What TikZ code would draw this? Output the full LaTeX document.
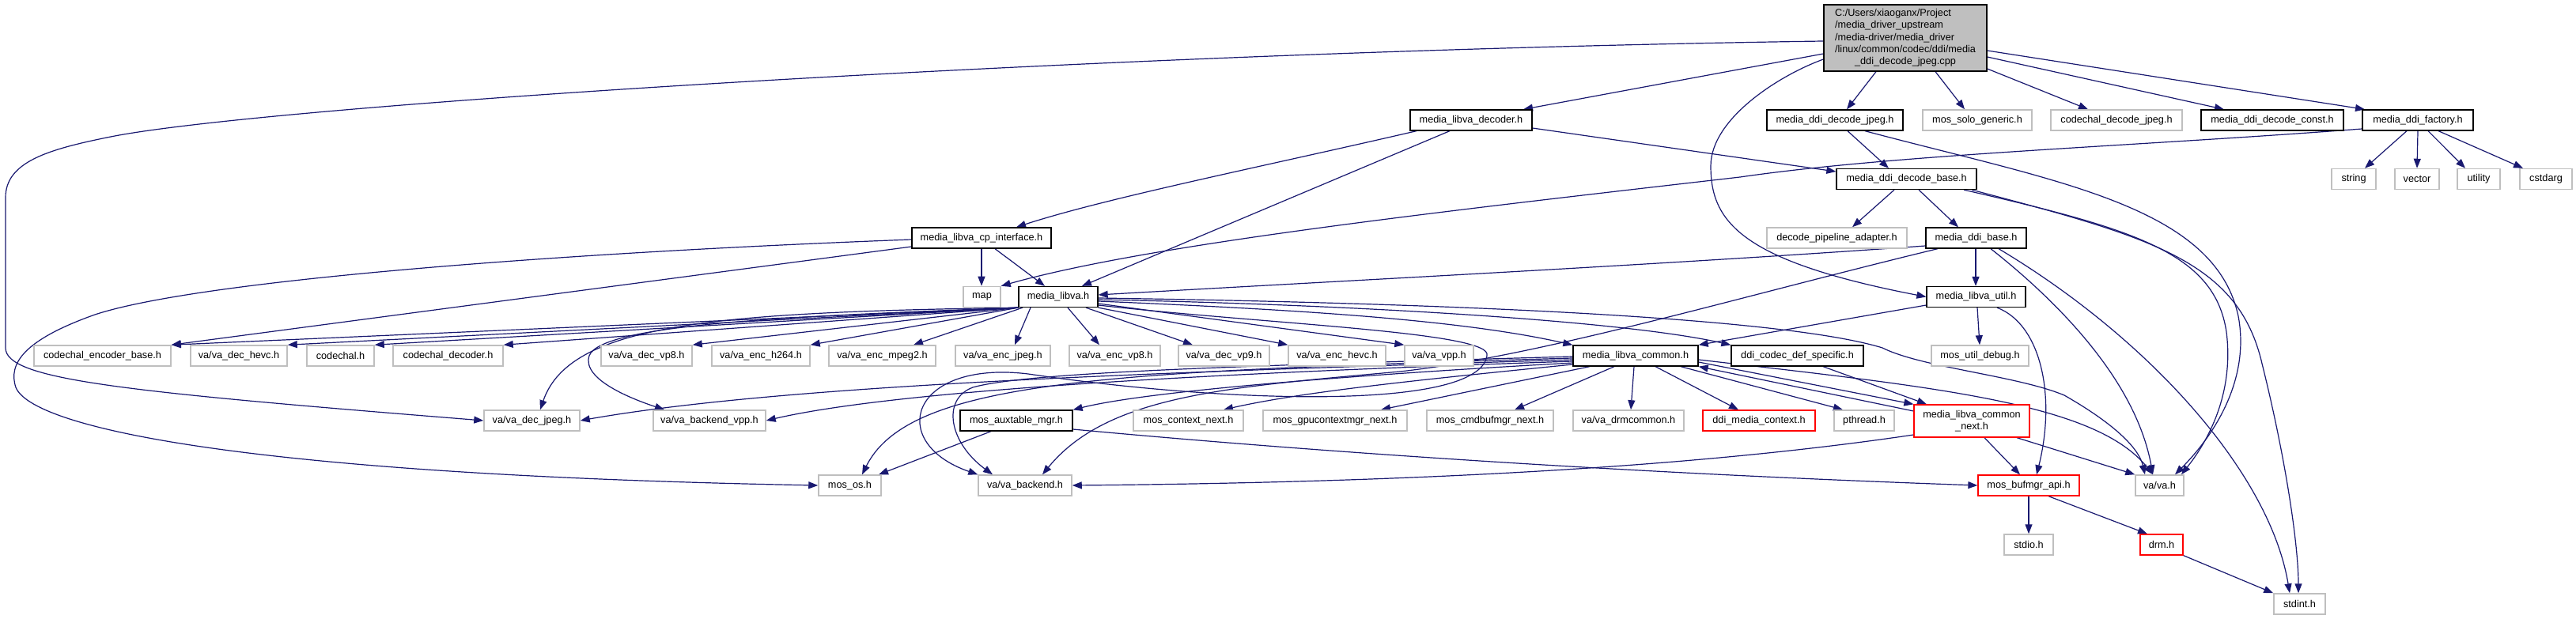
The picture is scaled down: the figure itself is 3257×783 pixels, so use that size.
\documentclass[tikz,border=0pt]{standalone}
\usepackage{fontspec}
\setmainfont{Liberation Sans}
\usetikzlibrary{arrows.meta,calc}
\definecolor{edgec}{HTML}{191970}
\definecolor{gr}{HTML}{BFBFBF}
\pgfdeclarelayer{bgl}
\pgfdeclarelayer{edl}
\pgfsetlayers{bgl,edl,main}
\tikzset{
 nd/.style={draw, fill=white, line width=1.5pt, minimum height=26pt, inner sep=0pt, font=\fontsize{12.7}{15.2}\selectfont},
 bk/.style={nd, draw=black, line width=1.3pt},
 gy/.style={nd, draw=gr},
 rd/.style={nd, draw=red, line width=1.3pt},
 e/.style={draw=edgec, line width=1.2pt, -{Triangle[length=12pt,width=9pt]}},
}
\newcommand\mynode[6]{\node[#1,minimum width=#5pt] (#2) at (#3,#4) {#6};}
\begin{document}
\begin{tikzpicture}[x=1pt,y=-1pt]
\begin{pgfonlayer}{bgl}
\fill[white] (0,0) rectangle (3257,783);
\end{pgfonlayer}
\useasboundingbox (0,0) rectangle (3257,783);
% main
\node[nd, draw=black, line width=1.3pt, fill=gr, minimum width=206pt, minimum height=84pt] (m) at (2409,48)
 {\begin{tabular}{@{}l@{}}C:/Users/xiaoganx/Project\\/media\_driver\_upstream\\/media-driver/media\_driver\\/linux/common/codec/ddi/media\\\multicolumn{1}{@{}c@{}}{\_ddi\_decode\_jpeg.cpp}\end{tabular}};
% row 1
\mynode{bk}{decoder}{1860}{152}{154}{media\_libva\_decoder.h}
\mynode{bk}{djpegh}{2320}{152}{172}{media\_ddi\_decode\_jpeg.h}
\mynode{gy}{solo}{2500}{152}{138}{mos\_solo\_generic.h}
\mynode{gy}{cdjpeg}{2676}{152}{166}{codechal\_decode\_jpeg.h}
\mynode{bk}{dconst}{2873}{152}{180}{media\_ddi\_decode\_const.h}
\mynode{bk}{factory}{3057}{152}{140}{media\_ddi\_factory.h}
% row 2
\mynode{bk}{dbase}{2410.5}{226.5}{177}{media\_ddi\_decode\_base.h}
\mynode{gy}{string}{2976}{226.5}{56}{string}
\mynode{gy}{vector}{3056}{226.5}{56}{vector}
\mynode{gy}{utility}{3134}{226.5}{54}{utility}
\mynode{gy}{cstdarg}{3219}{226.5}{66}{cstdarg}
% row 3
\mynode{bk}{cpif}{1241}{301}{176}{media\_libva\_cp\_interface.h}
\mynode{gy}{dpa}{2322.5}{301}{177}{decode\_pipeline\_adapter.h}
\mynode{bk}{ddibase}{2498.5}{301}{127}{media\_ddi\_base.h}
% row 4
\mynode{gy}{map}{1241.5}{375.5}{47}{map}
\mynode{bk}{libva}{1338}{375.5}{100}{media\_libva.h}
\mynode{bk}{util}{2498.5}{375.5}{125}{media\_libva\_util.h}
% row 5
\mynode{gy}{ceb}{129.5}{450}{173}{codechal\_encoder\_base.h}
\mynode{gy}{hevcdec}{302}{450}{122}{va/va\_dec\_hevc.h}
\mynode{gy}{codechal}{430.5}{450}{85}{codechal.h}
\mynode{gy}{cdec}{566.5}{450}{139}{codechal\_decoder.h}
\mynode{gy}{vpdec}{817.5}{450}{115}{va/va\_dec\_vp8.h}
\mynode{gy}{h264}{962}{450}{124}{va/va\_enc\_h264.h}
\mynode{gy}{mpeg2}{1115.5}{450}{135}{va/va\_enc\_mpeg2.h}
\mynode{gy}{encjpeg}{1268}{450}{120}{va/va\_enc\_jpeg.h}
\mynode{gy}{encvp}{1409.5}{450}{115}{va/va\_enc\_vp8.h}
\mynode{gy}{vpnine}{1547.5}{450}{115}{va/va\_dec\_vp9.h}
\mynode{gy}{enchevc}{1690.5}{450}{123}{va/va\_enc\_hevc.h}
\mynode{gy}{vpp}{1819.5}{450}{87}{va/va\_vpp.h}
\mynode{bk}{common}{2068}{450}{158}{media\_libva\_common.h}
\mynode{bk}{defspec}{2272.5}{450}{167}{ddi\_codec\_def\_specific.h}
\mynode{gy}{debug}{2503.5}{450}{123}{mos\_util\_debug.h}
% row 6
\mynode{gy}{decjpeg}{672.5}{532}{121}{va/va\_dec\_jpeg.h}
\mynode{gy}{bvpp}{897}{532}{142}{va/va\_backend\_vpp.h}
\mynode{bk}{aux}{1285}{532}{142}{mos\_auxtable\_mgr.h}
\mynode{gy}{ctxnext}{1502.5}{532}{139}{mos\_context\_next.h}
\mynode{gy}{gpuctx}{1688}{532}{182}{mos\_gpucontextmgr\_next.h}
\mynode{gy}{cmdbuf}{1884}{532}{160}{mos\_cmdbufmgr\_next.h}
\mynode{gy}{drmcommon}{2059}{532}{140}{va/va\_drmcommon.h}
\mynode{rd}{ddictx}{2224}{532}{142}{ddi\_media\_context.h}
\mynode{gy}{pthread}{2357}{532}{76}{pthread.h}
\node[rd, minimum width=146pt, minimum height=41pt, align=center] (cnext) at (2493,532.5) {media\_libva\_common\\\_next.h};
% row 7
\mynode{gy}{mosos}{1074.5}{614}{79}{mos\_os.h}
\mynode{gy}{backend}{1296}{614}{118}{va/va\_backend.h}
\mynode{rd}{bufmgr}{2565}{614}{128}{mos\_bufmgr\_api.h}
\mynode{gy}{vah}{2730.5}{614}{61}{va/va.h}
% row 8, 9
\mynode{gy}{stdio}{2565}{689}{62}{stdio.h}
\mynode{rd}{drm}{2733}{689}{54}{drm.h}
\mynode{gy}{stdint}{2907.5}{764}{65}{stdint.h}

\begin{pgfonlayer}{edl}
% main
\draw[e] (m.west |- 0,68) -- (decoder.north -| 1926,0);
\draw[e] (m.south -| 2372,0) -- (djpegh.north -| 2335,0);
\draw[e] (m.south -| 2447,0) -- (solo.north -| 2484,0);
\draw[e] (m.east |- 0,87) -- (cdjpeg.north -| 2640,0);
\draw[e] (m.east |- 0,72) -- (dconst.north -| 2812,0);
\draw[e] (m.east |- 0,64) -- (factory.north -| 2990,0);
\draw[e] (m.west |- 0,52) .. controls (1400,65) and (340,133) .. (140,173) .. controls (60,189) and (7,205) .. (7,250) -- (7,440) .. controls (7,480) and (150,495) .. (decjpeg.west);
\draw[e] (m.west |- 0,75) .. controls (2250,95) and (2163,150) .. (2163,210) .. controls (2163,280) and (2200,330) .. (util.west);
% decoder
\draw[e] (decoder.south -| 1791,0) .. controls (1600,210) and (1400,250) .. (cpif.north -| 1285,0);
\draw[e] (decoder.south -| 1833,0) -- (libva.north -| 1368,0);
\draw[e] (decoder.east |- 0,162) -- (dbase.west |- 0,217);
% djpegh
\draw[e] (djpegh.south -| 2336,0) -- (dbase.north -| 2388,0);
\draw[e] (djpegh.south -| 2358,0) .. controls (2600,230) and (2800,260) .. (2830,400) .. controls (2845,480) and (2800,550) .. (vah.north -| 2750,0);
% factory
\draw[e] (factory.south -| 3043,0) -- (string.north -| 2990,0);
\draw[e] (factory.south -| 3057,0) -- (vector.north);
\draw[e] (factory.south -| 3070,0) -- (utility.north -| 3117,0);
\draw[e] (factory.south -| 3083,0) -- (cstdarg.north -| 3190,0);
\draw[e] (factory.west |- 0,163) .. controls (2700,185) and (2400,195) .. (2200,224) .. controls (1800,270) and (1450,310) .. (map.north east);
% dbase
\draw[e] (dbase.south -| 2395,0) -- (dpa.north -| 2342,0);
\draw[e] (dbase.south -| 2426,0) -- (ddibase.north -| 2476,0);
\draw[e] (dbase.south -| 2483,0) .. controls (2700,290) and (2800,320) .. (2815,420) .. controls (2825,500) and (2790,560) .. (vah.north -| 2758,0);
\draw[e] (dbase.south -| 2493,0) .. controls (2720,300) and (2830,330) .. (2860,460) .. controls (2890,580) and (2906,690) .. (stdint.north -| 2906,0);
% cpif
\draw[e] (cpif.south -| 1241,0) -- (map.north -| 1241,0);
\draw[e] (cpif.south -| 1258,0) -- (libva.north -| 1321,0);
\draw[e] (cpif.west |- 0,312) -- (ceb.north east);
\draw[e] (cpif.west |- 0,303) .. controls (700,320) and (250,355) .. (120,398) .. controls (30,430) and (10,460) .. (20,490) .. controls (40,540) and (300,600) .. (mosos.west);
% libva
\draw[e] (libva.south west) -- (ceb.north east);
\draw[e] (libva.south west) -- (hevcdec.north east);
\draw[e] (libva.south west) -- (codechal.north east);
\draw[e] (libva.south west) -- (cdec.north east);
\draw[e] (libva.south west) -- (vpdec.north east);
\draw[e] (libva.south west) -- (h264.north east);
\draw[e] (libva.south -| 1293,0) -- (mpeg2.north -| 1155,0);
\draw[e] (libva.south -| 1303,0) -- (encjpeg.north -| 1283,0);
\draw[e] (libva.south -| 1350,0) -- (encvp.north -| 1390,0);
\draw[e] (libva.south -| 1373,0) -- (vpnine.north -| 1508,0);
\draw[e] (libva.south east) -- (enchevc.north west);
\draw[e] (libva.east |- 0,384) -- (vpp.north west);
\draw[e] (libva.east |- 0,381) .. controls (1650,392) and (1850,405) .. (common.north west);
\draw[e] (libva.east |- 0,379) .. controls (1700,385) and (2050,405) .. (defspec.north west);
\draw[e] (libva.east |- 0,377) .. controls (1800,383) and (2250,400) .. (2380,440) .. controls (2430,465) and (2550,475) .. (2610,500) .. controls (2680,540) and (2705,570) .. (vah.north -| 2712,0);
\draw[e] (libva.south west) .. controls (900,395) and (720,410) .. (decjpeg.north -| 683,0);
\draw[e] (libva.south west) .. controls (1000,400) and (760,410) .. (745,450) .. controls (735,480) and (800,505) .. (bvpp.north -| 840,0);
\draw[e] (libva.east |- 0,386) .. controls (1600,410) and (1890,420) .. (1880,450) .. controls (1870,520) and (1550,510) .. (1300,473) .. controls (1150,455) and (1120,560) .. (backend.north west);
% ddibase
\draw[e] (ddibase.south -| 2498,0) -- (util.north -| 2498,0);
\draw[e] (ddibase.west |- 0,311) .. controls (2100,335) and (1700,355) .. (libva.east |- 0,373);
\draw[e] (ddibase.south -| 2450,0) .. controls (2200,375) and (1950,450) .. (1770,470) .. controls (1550,490) and (1400,500) .. (backend.north -| 1318,0);
\draw[e] (ddibase.south -| 2517,0) .. controls (2600,380) and (2700,480) .. (vah.north -| 2722,0);
\draw[e] (ddibase.south -| 2527,0) .. controls (2720,430) and (2870,600) .. (stdint.north -| 2895,0);
% util
\draw[e] (util.west |- 0,386) -- (common.north east);
\draw[e] (util.south -| 2500,0) -- (debug.north -| 2503,0);
\draw[e] (util.south -| 2525,0) .. controls (2580,410) and (2600,500) .. (bufmgr.north -| 2575,0);
% common
\draw[e] (common.south -| 2010,0) -- (gpuctx.north -| 1746,0);
\draw[e] (common.south -| 2041,0) -- (cmdbuf.north -| 1915,0);
\draw[e] (common.south -| 2066,0) -- (drmcommon.north -| 2062,0);
\draw[e] (common.south -| 2093,0) -- (ddictx.north -| 2198,0);
\draw[e] (common.south -| 2125,0) -- (pthread.north -| 2330,0);
\draw[e] (common.east |- 0,458) -- (cnext.north west);
\draw[e] (cnext.west |- 0,520) -- (common.south east);
\draw[e] (common.east |- 0,455) .. controls (2450,490) and (2650,510) .. (vah.north -| 2722,0);
\draw[e] (common.west |- 0,455) .. controls (1500,470) and (1000,485) .. (decjpeg.east);
\draw[e] (common.west |- 0,457) .. controls (1600,470) and (1150,490) .. (bvpp.east);
\draw[e] (common.west |- 0,459) .. controls (1700,475) and (1450,495) .. (aux.north east);
\draw[e] (common.west |- 0,461) .. controls (1800,480) and (1650,495) .. (ctxnext.north -| 1547,0);
\draw[e] (common.west |- 0,453) .. controls (1400,470) and (1150,480) .. (mosos.north -| 1090,0);
\draw[e] (common.west |- 0,451) .. controls (1600,462) and (1300,470) .. (1230,490) .. controls (1190,505) and (1200,560) .. (backend.north -| 1255,0);
% defspec, cnext
\draw[e] (defspec.south -| 2305,0) -- (cnext.north -| 2436,0);
\draw[e] (cnext.south -| 2509,0) -- (bufmgr.north -| 2554,0);
\draw[e] (cnext.south -| 2550,0) -- (vah.north west);
\draw[e] (cnext.west |- 0,550) .. controls (2150,590) and (1800,610) .. (backend.east);
% aux
\draw[e] (aux.south -| 1253,0) -- (mosos.north -| 1111,0);
\draw[e] (aux.east |- 0,543) .. controls (1700,575) and (2100,600) .. (bufmgr.west);
% bufmgr, drm
\draw[e] (bufmgr.south -| 2565,0) -- (stdio.north);
\draw[e] (bufmgr.south -| 2590,0) -- (drm.north -| 2715,0);
\draw[e] (drm.south east) -- (stdint.north west);
\end{pgfonlayer}
\end{tikzpicture}
\end{document}
